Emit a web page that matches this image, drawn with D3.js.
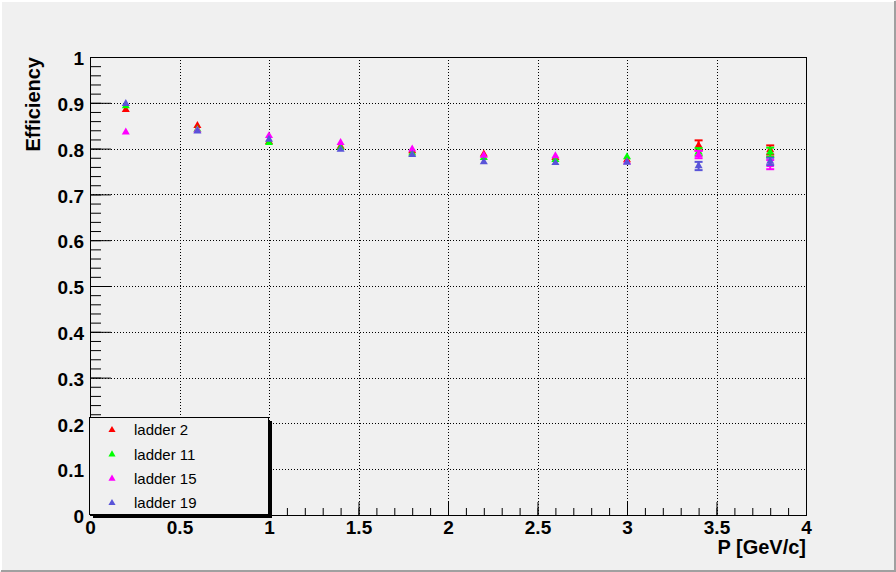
<!DOCTYPE html>
<html>
<head>
<meta charset="utf-8">
<script src="https://cdn.jsdelivr.net/npm/d3@7"></script>
<style>
  body { margin: 0; background: #f0f0f0; }
  svg { display: block; }
</style>
</head>
<body>
<div id="chart"></div>
<script>
var momentum = [0.2, 0.6, 1.0, 1.4, 1.8, 2.2, 2.6, 3.0, 3.4, 3.8];
var ladderNames = ["ladder 2", "ladder 11", "ladder 15", "ladder 19"];
var ladder2  = [0.885, 0.850, 0.815, 0.805, 0.795, 0.788, 0.780, 0.775, 0.807, 0.797];
var ladder11 = [0.893, 0.842, 0.813, 0.802, 0.790, 0.780, 0.776, 0.782, 0.793, 0.792];
var ladder15 = [0.836, 0.840, 0.828, 0.813, 0.799, 0.785, 0.784, 0.771, 0.787, 0.765];
var ladder19 = [0.898, 0.838, 0.820, 0.798, 0.787, 0.771, 0.769, 0.770, 0.762, 0.772];
var err2  = [0.004, 0.004, 0.004, 0.004, 0.004, 0.004, 0.004, 0.004, 0.011, 0.010];
var err11 = [0.003, 0.003, 0.003, 0.003, 0.003, 0.003, 0.003, 0.003, 0.008, 0.010];
var err15 = [0.003, 0.003, 0.003, 0.003, 0.003, 0.003, 0.003, 0.003, 0.008, 0.010];
var err19 = [0.003, 0.003, 0.003, 0.003, 0.003, 0.003, 0.003, 0.003, 0.009, 0.008];
var colors = ["#ff0000", "#00ff00", "#ff00ff", "#5954d8"];
var xTickLabels = ["0", "0.5", "1", "1.5", "2", "2.5", "3", "3.5", "4"];
var yTickLabels = ["0", "0.1", "0.2", "0.3", "0.4", "0.5", "0.6", "0.7", "0.8", "0.9", "1"];

var W = 896, H = 572;
var frame = {left: 90, right: 806, top: 57, bottom: 515};
var font = "'Liberation Sans', Arial, Helvetica, sans-serif";

var svg = d3.select("#chart").append("svg")
    .attr("width", W)
    .attr("height", H);

// canvas background and bevel
svg.append("rect").attr("width", W).attr("height", H).attr("fill", "#f0f0f0");
svg.append("path").attr("d", "M1," + (H - 1) + "V1H" + (W - 1))
    .attr("fill", "none").attr("stroke", "#ffffff").attr("stroke-width", 2);
svg.append("path").attr("d", "M" + (W - 1) + ",1V" + (H - 1) + "H1")
    .attr("fill", "none").attr("stroke", "#a0a0a0").attr("stroke-width", 2);

var x = d3.scaleLinear().domain([0, 4]).range([frame.left, frame.right]);
var y = d3.scaleLinear().domain([0, 1]).range([frame.bottom, frame.top]);

var xMajor = d3.range(0, 4.0001, 0.5);
var xMinor = d3.range(0, 4.0001, 0.1);
var yMajor = d3.range(0, 1.0001, 0.1);
var yMinor = d3.range(0, 1.0001, 0.02);

// grid
var grid = svg.append("g")
    .attr("stroke", "#000")
    .attr("stroke-width", 1)
    .attr("stroke-dasharray", "1,2");
grid.selectAll(".gx").data(xMajor.slice(1, -1)).enter().append("line")
    .attr("x1", function(d) { return Math.round(x(d)) + 0.5; })
    .attr("x2", function(d) { return Math.round(x(d)) + 0.5; })
    .attr("y1", frame.top).attr("y2", frame.bottom);
grid.selectAll(".gy").data(yMajor.slice(1, -1)).enter().append("line")
    .attr("y1", function(d) { return Math.round(y(d)) + 0.5; })
    .attr("y2", function(d) { return Math.round(y(d)) + 0.5; })
    .attr("x1", frame.left).attr("x2", frame.right);

// frame
svg.append("rect")
    .attr("x", frame.left + 0.5).attr("y", frame.top + 0.5)
    .attr("width", frame.right - frame.left).attr("height", frame.bottom - frame.top)
    .attr("fill", "none").attr("stroke", "#000");

// minor ticks
var xMinorAxis = d3.axisBottom(x).tickValues(xMinor).tickSizeInner(-7).tickSizeOuter(0).tickFormat("");
var yMinorAxis = d3.axisLeft(y).tickValues(yMinor).tickSizeInner(-11).tickSizeOuter(0).tickFormat("");
svg.append("g").attr("transform", "translate(0," + frame.bottom + ")").call(xMinorAxis)
    .call(function(g) { g.select(".domain").remove(); });
svg.append("g").attr("transform", "translate(" + frame.left + ",0)").call(yMinorAxis)
    .call(function(g) { g.select(".domain").remove(); });

// major axes
var xAxis = d3.axisBottom(x).tickValues(xMajor).tickSizeInner(-13).tickSizeOuter(0).tickPadding(6)
    .tickFormat(function(d, i) { return xTickLabels[i]; });
var yAxis = d3.axisLeft(y).tickValues(yMajor).tickSizeInner(-21).tickSizeOuter(0).tickPadding(6)
    .tickFormat(function(d, i) { return yTickLabels[i]; });

var gx = svg.append("g").attr("transform", "translate(0," + frame.bottom + ")").call(xAxis);
var gy = svg.append("g").attr("transform", "translate(" + frame.left + ",0)").call(yAxis);
[gx, gy].forEach(function(g) {
  g.select(".domain").attr("stroke", "#000");
  g.selectAll("text")
      .attr("fill", "#000")
      .style("font-family", font)
      .style("font-size", "19px")
      .style("font-weight", "bold");
});
gy.selectAll("text").attr("dy", "0.4em");
svg.selectAll(".tick line").attr("stroke", "#000");

// axis titles
svg.append("text")
    .attr("x", frame.right).attr("y", 554)
    .attr("text-anchor", "end")
    .style("font-family", font).style("font-size", "20px").style("font-weight", "bold")
    .text("P [GeV/c]");
svg.append("text")
    .attr("transform", "translate(40," + frame.top + ") rotate(-90)")
    .attr("text-anchor", "end")
    .style("font-family", font).style("font-size", "20px").style("font-weight", "bold")
    .text("Efficiency");

// data
var series = [ladder2, ladder11, ladder15, ladder19];
var errors = [err2, err11, err15, err19];
var tri = d3.symbol().type(d3.symbolTriangle).size(28);
var half = 3; // error bars are drawn only when they reach outside the marker

series.forEach(function(vals, s) {
  var pts = momentum.map(function(p, i) { return {p: p, v: vals[i], e: errors[s][i]}; });
  var g = svg.append("g").attr("stroke", colors[s]).attr("fill", colors[s]);
  var big = pts.filter(function(d) { return y(d.v - d.e) - y(d.v) > half; });
  var eb = g.selectAll(".err").data(big).enter().append("g");
  eb.append("line")
      .attr("x1", function(d) { return x(d.p); }).attr("x2", function(d) { return x(d.p); })
      .attr("y1", function(d) { return y(d.v + d.e); }).attr("y2", function(d) { return y(d.v - d.e); })
      .attr("stroke-width", 2);
  [1, -1].forEach(function(sign) {
    eb.append("line")
        .attr("x1", function(d) { return x(d.p) - 4; }).attr("x2", function(d) { return x(d.p) + 4; })
        .attr("y1", function(d) { return y(d.v + sign * d.e); })
        .attr("y2", function(d) { return y(d.v + sign * d.e); })
        .attr("stroke-width", 2);
  });
  g.selectAll(".pt").data(pts).enter().append("path")
      .attr("d", tri)
      .attr("stroke", "none")
      .attr("transform", function(d) { return "translate(" + x(d.p) + "," + y(d.v) + ")"; });
});

// legend
var leg = {x: 89, y: 417, w: 179, h: 97};
svg.append("rect")
    .attr("x", leg.x + 4).attr("y", leg.y + 4).attr("width", leg.w).attr("height", leg.h)
    .attr("fill", "#000");
svg.append("rect")
    .attr("x", leg.x + 0.5).attr("y", leg.y + 0.5).attr("width", leg.w).attr("height", leg.h)
    .attr("fill", "#f0f0f0").attr("stroke", "#000");
var rowY = d3.scalePoint().domain(ladderNames).range([leg.y + 13, leg.y + 86]);
var items = svg.selectAll(".leg").data(ladderNames).enter().append("g")
    .attr("transform", function(d) { return "translate(" + leg.x + "," + rowY(d) + ")"; });
items.append("path")
    .attr("d", d3.symbol().type(d3.symbolTriangle).size(22))
    .attr("transform", "translate(23,0)")
    .attr("fill", function(d, i) { return colors[i]; });
items.append("text")
    .attr("x", 45).attr("dy", "0.36em")
    .style("font-family", font).style("font-size", "15px")
    .attr("fill", "#000")
    .text(function(d) { return d; });
</script>
</body>
</html>
